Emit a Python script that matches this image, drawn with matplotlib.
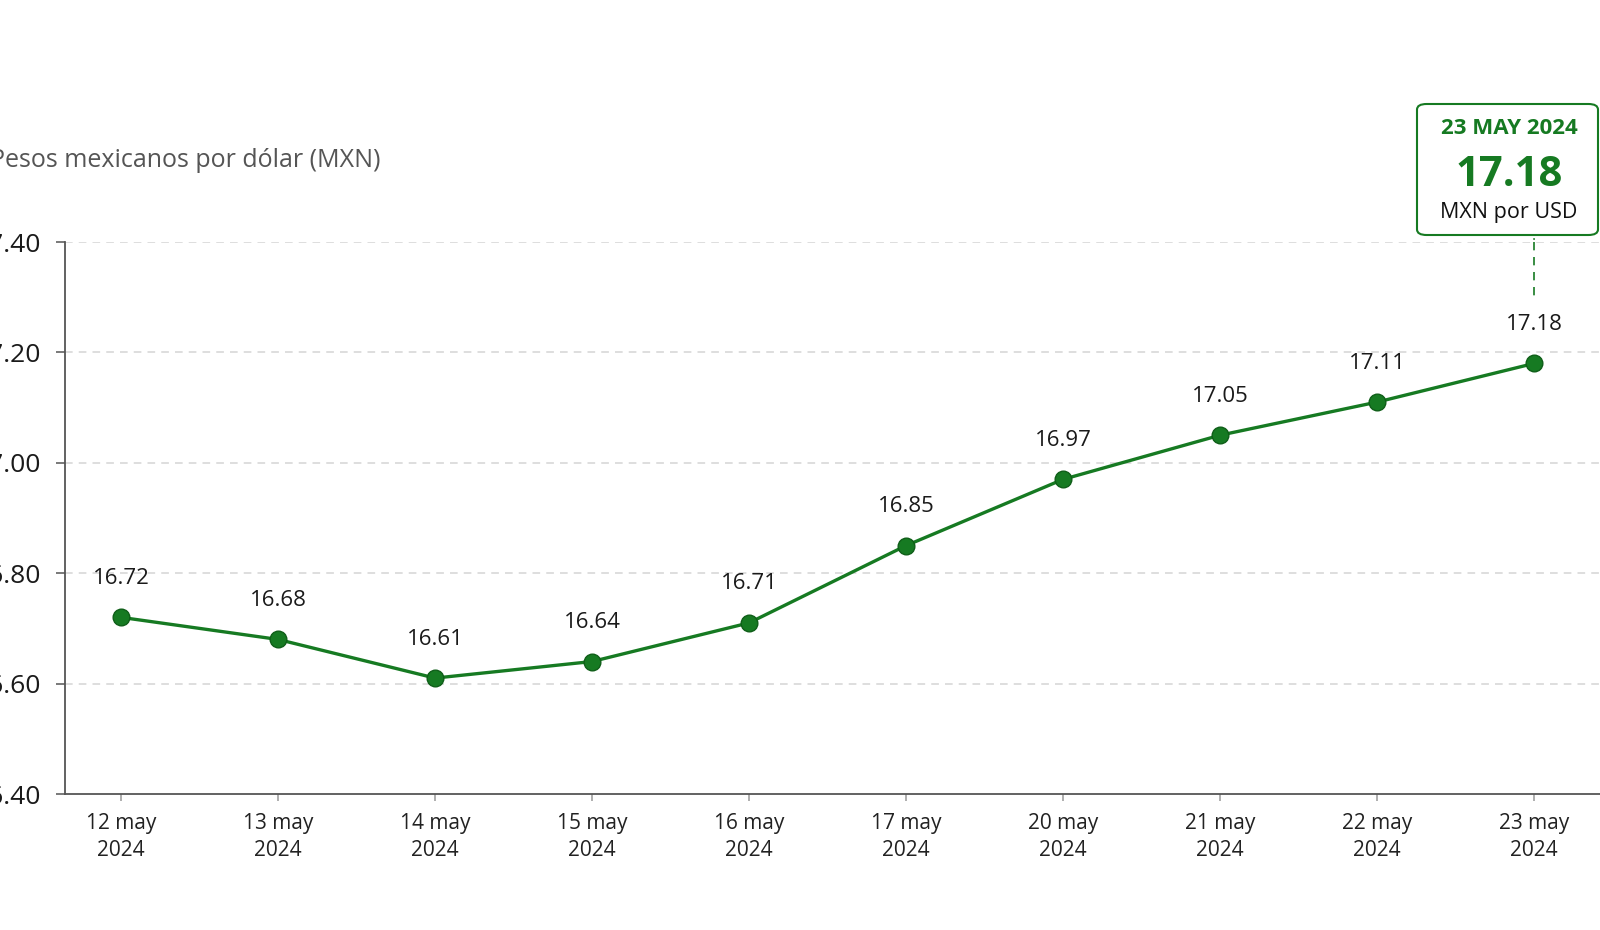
import matplotlib
matplotlib.use("Agg")
import matplotlib.pyplot as plt
from matplotlib.patches import FancyBboxPatch

plt.rcParams["font.family"] = ["Open Sans", "DejaVu Sans"]

FECHAS = ["12 may\n2024", "13 may\n2024", "14 may\n2024", "15 may\n2024", "16 may\n2024",
          "17 may\n2024", "20 may\n2024", "21 may\n2024", "22 may\n2024", "23 may\n2024"]
VALORES = [16.72, 16.68, 16.61, 16.64, 16.71, 16.85, 16.97, 17.05, 17.11, 17.18]
Y_TICKS = [16.40, 16.60, 16.80, 17.00, 17.20, 17.40]

VERDE = "#167a22"
W, H = 1600, 930

fig = plt.figure(figsize=(16, 9.3), dpi=100)
fig.patch.set_facecolor("white")
ax = fig.add_axes([65 / W, 1 - 794 / H, 1 - 65 / W, (794 - 242) / H])

x = list(range(len(VALORES)))
ax.plot(x, VALORES, color=VERDE, lw=2.4, marker="o", ms=12,
        mfc=VERDE, mec="#0f5e18", mew=1.0, zorder=3)

for xi, v in zip(x, VALORES):
    ax.annotate(f"{v:.2f}", (xi, v), xytext=(0, 28), textcoords="offset points",
                ha="center", va="center", fontsize=16, color="#1a1a1a")

ax.set_xlim(-0.357, 9.42)
ax.set_ylim(16.40, 17.40)
ax.set_xticks(x)
ax.set_xticklabels(FECHAS, fontsize=15, color="#222222", linespacing=1.35)
ax.set_yticks(Y_TICKS)
ax.set_yticklabels([f"{t:.2f}" for t in Y_TICKS], fontsize=19, color="#1a1a1a")

for t in Y_TICKS[1:]:
    ax.axhline(t, color="#d4d4d4", lw=1.1, ls=(0, (5, 4)), zorder=1)

for s in ["top", "right"]:
    ax.spines[s].set_visible(False)
for s in ["left", "bottom"]:
    ax.spines[s].set_color("#555555")
    ax.spines[s].set_linewidth(1.3)
ax.tick_params(axis="y", length=6.5, width=1.1, color="#555555", pad=11)
ax.tick_params(axis="x", length=5, width=1.1, color="#999999", pad=9)

fig.text(-10 / W, 1 - 160 / H, "Pesos mexicanos por dólar (MXN)", fontsize=18,
         color="#555555", ha="left", va="center")

# recuadro del ultimo dato
caja = FancyBboxPatch((1417 / W, 1 - 235 / H), 181 / W, 131 / H,
                      boxstyle="round,pad=0,rounding_size=0.006",
                      transform=fig.transFigure, facecolor="white",
                      edgecolor=VERDE, lw=1.5)
fig.patches.append(caja)
cx = 1509 / W
fig.text(cx, 1 - 129 / H, "23 MAY 2024", fontsize=16, fontweight="bold",
         color=VERDE, ha="center", va="center")
fig.text(cx, 1 - 175 / H, f"{VALORES[-1]:.2f}", fontsize=30, fontweight="bold",
         color=VERDE, ha="center", va="center")
fig.text(cx, 1 - 212 / H, "MXN por USD", fontsize=15.5, color="#111111",
         ha="center", va="center")
ax.annotate("", xy=(x[-1], 17.405), xycoords="data",
            xytext=(1534 / W, 1 - 236 / H), textcoords="figure fraction",
            arrowprops=dict(arrowstyle="-", color=VERDE, lw=1.2, ls=(0, (5, 4))),
            annotation_clip=False)
ax.plot([x[-1], x[-1]], [17.40, 17.30], color=VERDE, lw=1.2, ls=(0, (5, 4)),
        clip_on=False, zorder=2)

fig.savefig("out.png", dpi=100)
